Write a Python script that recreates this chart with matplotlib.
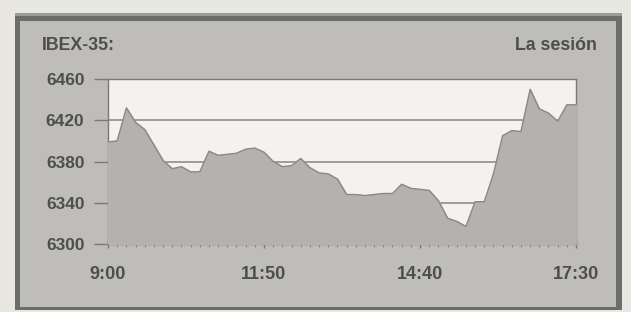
import matplotlib
matplotlib.use("Agg")
import matplotlib.pyplot as plt
from matplotlib.patches import Rectangle

# IBEX-35 intraday session, minutes after 9:00
minutes = [0, 10, 20, 30, 40, 50, 60, 70, 80, 90, 100, 110, 120, 130, 140, 150, 160,
           170, 180, 190, 200, 210, 220, 230, 240, 250, 260, 270, 280, 290, 300, 310,
           320, 330, 340, 350, 360, 370, 380, 390, 400, 410, 420, 430, 440, 450, 460,
           470, 480, 490, 500, 510]
values = [6399, 6400, 6432, 6418, 6411, 6396, 6381, 6373, 6375, 6370, 6370, 6390,
          6386, 6387, 6388, 6392, 6393, 6389, 6380, 6375, 6376, 6383, 6374, 6369,
          6368, 6363, 6348, 6348, 6347, 6348, 6349, 6349, 6358, 6354, 6353, 6352,
          6342, 6325, 6322, 6317, 6341, 6341, 6368, 6405, 6410, 6409, 6450, 6431,
          6427, 6419, 6435, 6435]

xtick_pos = [0, 170, 340, 510]
xtick_labels = ["9:00", "11:50", "14:40", "17:30"]
yticks = [6300, 6340, 6380, 6420, 6460]

W, H = 631, 312
fig = plt.figure(figsize=(W / 100, H / 100), dpi=100)
fig.patch.set_facecolor("#e9e7e1")

def px_rect(x0, y0, x1, y1, color):
    # rectangle given in pixel coords (origin top-left)
    return Rectangle((x0 / W, 1 - y1 / H), (x1 - x0) / W, (y1 - y0) / H,
                     transform=fig.transFigure, facecolor=color, edgecolor="none",
                     zorder=-10)

# the gray panel with its dark frame
fig.add_artist(px_rect(15, 13, 622, 310, "#6c6c6a"))
fig.add_artist(px_rect(15, 13, 622, 16, "#9a9a98"))
fig.add_artist(px_rect(20, 21, 616, 307, "#bebdb9"))

ax = fig.add_axes([108 / W, 1 - 244 / H, 468 / W, 165 / H])
ax.set_facecolor("#f3f2ee")

ax.fill_between(minutes, values, 6300, color="#b3b2ae", zorder=3)
ax.plot(minutes, values, color="#8a8986", lw=1.0, zorder=4)

for y in yticks[1:-1]:
    ax.axhline(y, color="#8f8e8b", lw=1.2, zorder=1)

ax.set_xlim(0, 510)
ax.set_ylim(6300, 6460)
ax.set_yticks(yticks)
ax.set_xticks(xtick_pos)
ax.set_xticklabels(xtick_labels)
ax.set_xticks(range(0, 511, 10), minor=True)

for s in ax.spines.values():
    s.set_color("#7a7977")
    s.set_linewidth(1.0)

ax.tick_params(axis="y", length=10, width=1, color="#7a7977", pad=7,
               labelsize=12.5, labelcolor="#4e4e4c")
ax.tick_params(axis="x", which="major", length=6, width=1, color="#7a7977",
               direction="inout", pad=13, labelsize=13, labelcolor="#4e4e4c")
ax.tick_params(axis="x", which="minor", length=5, width=0.8, color="#8a8986",
               direction="inout")
for lab in ax.get_xticklabels() + ax.get_yticklabels():
    lab.set_fontfamily("Liberation Sans")
    lab.set_fontweight("bold")

fig.text(42 / W, 1 - 45 / H, "IBEX-35:", ha="left", va="center",
         fontsize=12.8, fontweight="bold", color="#4e4e4c", family="Liberation Sans")
fig.text(597 / W, 1 - 45 / H, "La sesión", ha="right", va="center",
         fontsize=12.8, fontweight="bold", color="#4e4e4c", family="Liberation Sans")

fig.savefig("out.png", dpi=100, facecolor=fig.get_facecolor())
